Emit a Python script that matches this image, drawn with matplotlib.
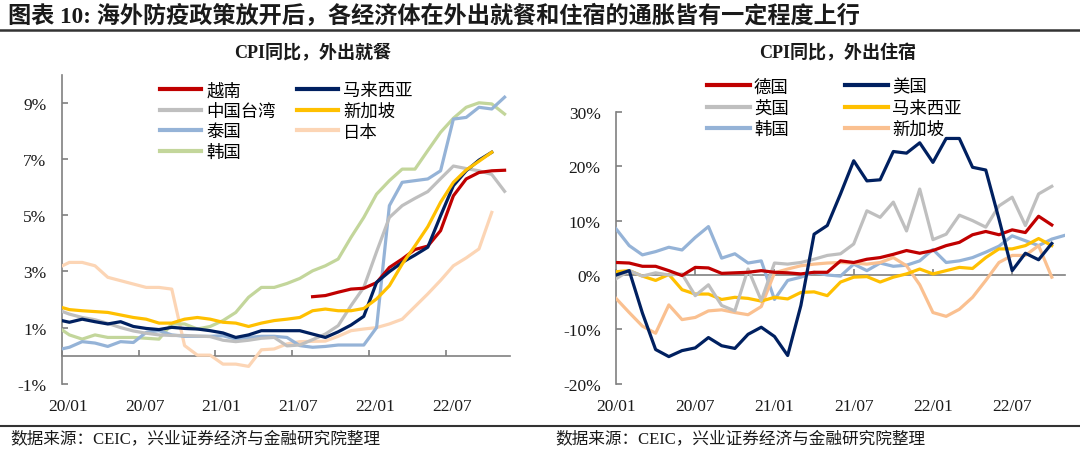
import matplotlib
matplotlib.use('Agg')
import matplotlib.pyplot as plt
import numpy as np
from matplotlib.lines import Line2D

plt.rcParams['font.family'] = ['Liberation Serif', 'Noto Sans CJK SC']

nan = np.nan

# ---- left panel: CPI 外出就餐, monthly, first value (19/12) sits left of the axis
dine_ticks = ['20/01', '20/07', '21/01', '21/07', '22/01', '22/07']
vietnam = [nan] * 20 + [2.1, 2.14, 2.26, 2.37, 2.4, 2.6, 3.14, 3.44, 3.78, 3.9, 4.45,
                        5.69, 6.29, 6.52, 6.58, 6.6]
malaysia_d = [1.29, 1.19, 1.3, 1.21, 1.13, 1.21, 1.04, 0.97, 0.93, 1.01, 0.97, 0.95,
              0.89, 0.81, 0.65, 0.74, 0.89, 0.89, 0.89, 0.89, 0.77, 0.65, 0.85, 1.09,
              1.4, 2.61, 2.99, 3.32, 3.58, 3.86, 4.98, 6.05, 6.58, 6.96, 7.24]
taiwan = [1.65, 1.48, 1.36, 1.28, 1.15, 1.0, 0.88, 0.8, 0.74, 0.72, 0.72, 0.7, 0.68,
          0.55, 0.5, 0.55, 0.62, 0.65, 0.35, 0.38, 0.57, 0.77, 1.07, 1.78, 2.43, 3.7,
          4.92, 5.34, 5.6, 5.84, 6.3, 6.75, 6.66, 6.58, 6.45, 5.85]
singapore_d = [1.77, 1.64, 1.6, 1.57, 1.54, 1.45, 1.36, 1.3, 1.16, 1.16, 1.3, 1.36,
               1.3, 1.19, 1.16, 1.04, 1.16, 1.25, 1.3, 1.36, 1.6, 1.66, 1.6, 1.6, 1.68,
               2.02, 2.49, 3.26, 3.91, 4.59, 5.46, 6.17, 6.61, 6.92, 7.24]
thailand = [0.2, 0.3, 0.5, 0.45, 0.33, 0.5, 0.47, 0.83, 0.89, 0.74, 0.69, 0.69, 0.69,
            0.71, 0.59, 0.65, 0.69, 0.69, 0.65, 0.36, 0.3, 0.33, 0.38, 0.38, 0.38, 1.0,
            5.34, 6.17, 6.23, 6.29, 6.58, 8.42, 8.48, 8.84, 8.78, 9.2]
japan = [3.1, 3.32, 3.32, 3.2, 2.79, 2.67, 2.55, 2.43, 2.43, 2.37, 0.36, 0.02, 0.02,
         -0.3, -0.3, -0.38, 0.21, 0.24, 0.42, 0.5, 0.51, 0.52, 0.69, 0.89, 0.95, 1.0,
         1.13, 1.3, 1.75, 2.2, 2.68, 3.2, 3.48, 3.8, 5.1]
korea_d = [1.05, 0.74, 0.59, 0.74, 0.65, 0.65, 0.65, 0.62, 0.59, 1.13, 1.13, 0.95,
           1.04, 1.25, 1.54, 2.08, 2.43, 2.43, 2.57, 2.75, 3.02, 3.2, 3.44, 4.21, 4.92,
           5.75, 6.23, 6.64, 6.64, 7.3, 7.95, 8.45, 8.84, 9.0, 8.96, 8.6]

# ---- right panel: CPI 外出住宿, monthly from 20/01
stay_ticks = ['20/01', '20/07', '21/01', '21/07', '22/01', '22/07']
germany = [2.3, 2.2, 1.6, 1.6, 0.8, -0.1, 1.4, 1.3, 0.3, 0.4, 0.5, 0.8, 0.5, 0.4, 0.2,
           0.5, 0.5, 2.6, 2.3, 2.9, 3.2, 3.8, 4.5, 4.0, 4.5, 5.4, 6.0, 7.4, 8.0, 7.4,
           8.3, 7.8, 10.8, 9.2]
usa = [0.0, 0.8, -7.0, -13.7, -15.0, -13.9, -13.4, -11.5, -13.0, -13.5, -10.9, -9.6,
       -11.3, -14.8, -5.6, 7.5, 9.1, 14.9, 21.0, 17.3, 17.5, 22.7, 22.4, 24.3, 20.7,
       25.1, 25.1, 19.8, 19.3, 10.3, 0.8, 4.0, 2.8, 5.8]
uk = [-0.7, 0.8, -0.2, 0.4, 0.0, 0.2, -3.8, -1.8, -5.6, -6.6, 1.1, -4.7, 2.2, 2.0, 2.3,
      2.9, 3.6, 3.9, 5.7, 11.8, 10.6, 13.4, 8.1, 15.8, 6.5, 7.5, 11.0, 10.0, 8.8, 12.7,
      14.3, 9.1, 14.9, 16.3]
malaysia_s = [0.6, 0.8, -0.2, -1.0, 0.1, -2.7, -3.5, -3.5, -4.5, -4.1, -4.3, -4.8,
              -4.1, -4.4, -3.2, -3.1, -3.8, -1.3, -0.4, -0.3, -1.3, -0.4, 0.2, 1.1, 0.2,
              0.8, 1.4, 1.2, 3.2, 4.8, 4.8, 5.4, 6.7, 5.4]
korea_s = [8.5, 5.4, 3.7, 4.3, 5.1, 4.6, 6.9, 8.9, 3.1, 3.9, 2.2, 2.6, -4.5, -1.0, -0.4,
           0.5, 0.0, -0.2, 2.0, 0.8, 2.2, 1.6, 1.8, 2.6, 4.7, 2.3, 2.6, 3.2, 4.2, 5.3,
           7.2, 6.3, 5.4, 6.6, 7.3]
singapore_s = [-4.3, -6.9, -9.4, -10.7, -5.5, -8.2, -7.8, -6.6, -6.4, -6.9, -7.3, -5.8,
               0.4, 1.1, 1.7, 2.0, 2.2, 2.3, 2.2, 2.0, 2.3, 3.2, 1.7, -1.8, -6.9, -7.6,
               -6.3, -4.1, -1.0, 2.3, 3.6, 3.6, 5.4, -0.4]

RED = '#C00000'
NAVY = '#002060'
GRAY = '#BFBFBF'
GOLD = '#FFC000'
LBLUE = '#95B3D7'
PEACH_L = '#FCD5B5'
PEACH = '#FAC090'
GREEN = '#C3D69B'
AX = '#808080'
TXT = '#1a1a1a'

W, H = 1080, 452
fig = plt.figure(figsize=(W / 100, H / 100), dpi=100)


def px(x0, y0, x1, y1):
    return [x0 / W, 1 - y1 / H, (x1 - x0) / W, (y1 - y0) / H]


def style_axes(ax, ylo, yhi, yt, xmax, tick_pos, label_pos, labels):
    ax.set_ylim(ylo, yhi)
    ax.set_xlim(0, xmax)
    for s in ['top', 'right', 'bottom']:
        ax.spines[s].set_visible(False)
    ax.spines['left'].set_color(AX)
    ax.spines['left'].set_linewidth(1.2)
    ax.set_yticks(yt)
    ax.set_yticklabels(['%d%%' % v for v in yt])
    ax.tick_params(axis='y', direction='in', length=4, width=1.2, color=AX,
                   labelsize=12.5, pad=11, labelcolor=TXT)
    ax.set_xticks(label_pos)
    ax.set_xticklabels(labels)
    ax.tick_params(axis='x', length=0, labelsize=12.5, pad=10, labelcolor=TXT)
    # zero line with the month ticks
    zero = (0 - ylo) / (yhi - ylo)
    sec = ax.secondary_xaxis(zero)
    sec.set_xticks(tick_pos)
    sec.set_xticklabels([])
    sec.tick_params(direction='in', length=4, width=1.2, color=AX)
    sec.spines['bottom'].set_color(AX)
    sec.spines['bottom'].set_linewidth(1.2)


def thick_handles(leg):
    for h in leg.legend_handles:
        h.set_linewidth(3.0)


LW = 2.3

# ---- left
ax1 = fig.add_axes(px(61.7, 75.7, 509.7, 384.8))
dine = [('越南', vietnam, RED), ('中国台湾', taiwan, GRAY), ('泰国', thailand, LBLUE),
        ('韩国', korea_d, GREEN), ('马来西亚', malaysia_d, NAVY),
        ('新加坡', singapore_d, GOLD), ('日本', japan, PEACH_L)]
draw_order = ['日本', '韩国', '泰国', '中国台湾', '越南', '马来西亚', '新加坡']
lines1 = {}
for name, vals, col in dine:
    x = np.arange(len(vals)) - 0.4
    lines1[name], = ax1.plot(x, vals, color=col, lw=LW, solid_joinstyle='round',
                             zorder=3 + draw_order.index(name))
tpos = np.arange(0, 31, 6)
style_axes(ax1, -1, 10, [-1, 1, 3, 5, 7, 9], 35, tpos, tpos + 0.48, dine_ticks)
leg1 = ax1.legend([lines1[n] for n, _, _ in dine], [n for n, _, _ in dine], ncol=2,
                  loc='upper left', bbox_to_anchor=(160 / W, 1 - 84 / H),
                  bbox_transform=fig.transFigure, frameon=False, fontsize=12.5,
                  handlelength=2.37, handletextpad=0.3, columnspacing=1.2,
                  labelspacing=0.25, borderpad=0, borderaxespad=0)
thick_handles(leg1)

# ---- right
ax2 = fig.add_axes(px(616, 112.8, 1065, 384.8))
stay = [('德国', germany, RED), ('英国', uk, GRAY), ('韩国', korea_s, LBLUE),
        ('美国', usa, NAVY), ('马来西亚', malaysia_s, GOLD), ('新加坡', singapore_s, PEACH)]
order2 = ['韩国', '新加坡', '马来西亚', '英国', '德国', '美国']
lines2 = {}
for name, vals, col in stay:
    x = np.arange(len(vals))
    lines2[name], = ax2.plot(x, vals, color=col, lw=LW, solid_joinstyle='round',
                             zorder=3 + order2.index(name))
tpos2 = np.arange(0, 31, 6)
style_axes(ax2, -20, 30, [-20, -10, 0, 10, 20, 30], 34, tpos2, tpos2, stay_ticks)
leg2 = ax2.legend([lines2[n] for n, _, _ in stay], [n for n, _, _ in stay], ncol=2,
                  loc='upper left', bbox_to_anchor=(707 / W, 1 - 80 / H),
                  bbox_transform=fig.transFigure, frameon=False, fontsize=12.5,
                  handlelength=2.45, handletextpad=0.25, columnspacing=3.25,
                  labelspacing=0.3, borderpad=0, borderaxespad=0)
thick_handles(leg2)

# ---- titles, rules and source notes
fig.text(8 / W, 1 - 17 / H, '图表 10: 海外防疫政策放开后，各经济体在外出就餐和住宿的通胀皆有一定程度上行',
         fontsize=16.7, fontweight='bold', color=TXT, ha='left', va='center')
fig.add_artist(Line2D([0, 1], [1 - 31 / H, 1 - 31 / H], color='#333333', lw=1.8,
                      transform=fig.transFigure))
fig.text(313 / W, 1 - 53 / H, 'CPI同比，外出就餐', fontsize=13, fontweight='bold',
         color=TXT, ha='center', va='center')
fig.text(838 / W, 1 - 53 / H, 'CPI同比，外出住宿', fontsize=13, fontweight='bold',
         color=TXT, ha='center', va='center')
fig.add_artist(Line2D([0, 1], [1 - 427 / H, 1 - 427 / H], color='#333333', lw=1.5,
                      transform=fig.transFigure))
src = '数据来源：CEIC，兴业证券经济与金融研究院整理'
fig.text(10 / W, 1 - 439 / H, src, fontsize=12, color=TXT, ha='left', va='center')
fig.text(555 / W, 1 - 439 / H, src, fontsize=12, color=TXT, ha='left', va='center')

fig.savefig('out.png', dpi=100)
